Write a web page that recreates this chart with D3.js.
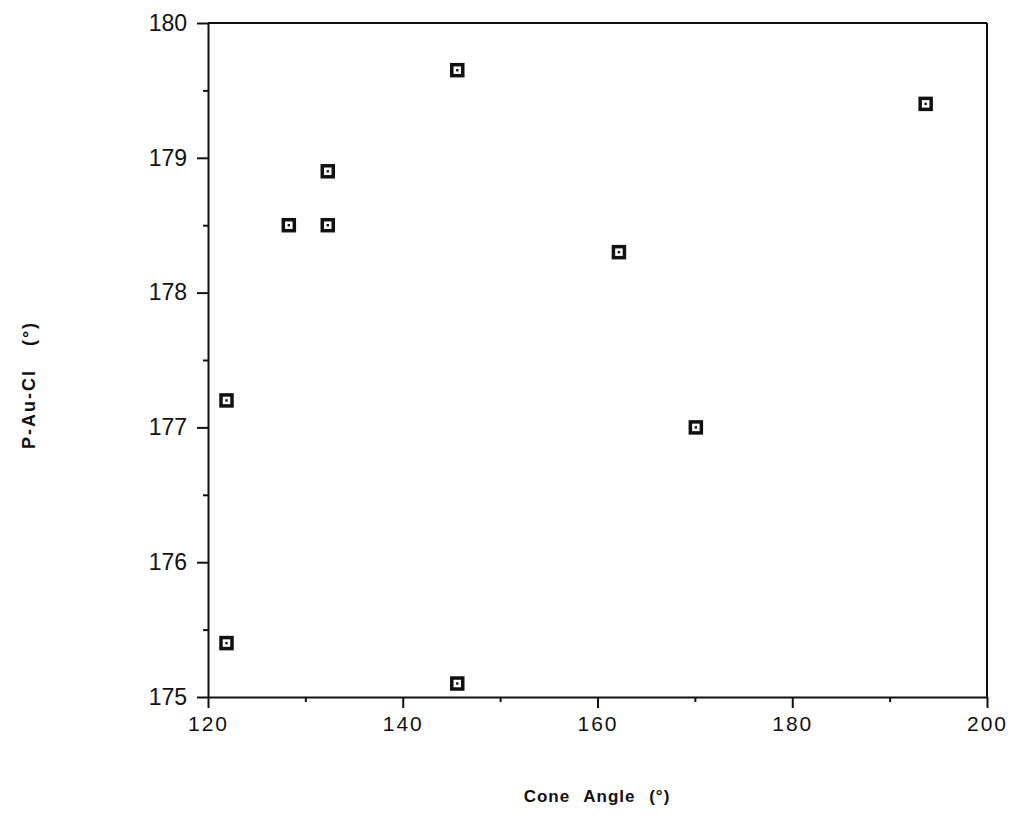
<!DOCTYPE html>
<html lang="en">
<head>
<meta charset="UTF-8">
<title>P-Au-Cl vs Cone Angle</title>
<script src="https://cdn.jsdelivr.net/npm/d3@7"></script>
<style>
body { margin: 0; background: #fff; }
text { font-family: "Liberation Sans", Arial, sans-serif; fill: #111; }
.axis path, .axis line { stroke: #111; stroke-width: 2; }
</style>
</head>
<body>
<div id="output"></div>
<script>

// cone angle (deg) vs P-Au-Cl angle (deg)
var coneAngle = [121.9, 121.9, 128.3, 132.3, 132.3, 145.6, 145.6, 162.2, 170.1, 193.7];
var pAuCl     = [177.2, 175.4, 178.5, 178.9, 178.5, 179.65, 175.1, 178.3, 177.0, 179.4];

var xTicks = [120, 140, 160, 180, 200];
var xMinor = [130, 150, 170, 190];
var yTicks = [175, 176, 177, 178, 179, 180];
var yMinor = [175.5, 176.5, 177.5, 178.5, 179.5];

var w = 1016, h = 835;
var padLeft = 208, padRight = 987, padTop = 23, padBottom = 697;

var svg = d3.select("#output").append("svg")
    .attr("width", w)
    .attr("height", h);

var xScale = d3.scaleLinear().domain([120, 200]).range([padLeft, padRight]);
var yScale = d3.scaleLinear().domain([175, 180]).range([padBottom, padTop]);

// frame top + right
svg.append("line").attr("x1", padLeft).attr("x2", padRight).attr("y1", padTop).attr("y2", padTop)
    .attr("stroke", "#111").attr("stroke-width", 2);
svg.append("line").attr("x1", padRight).attr("x2", padRight).attr("y1", padTop).attr("y2", padBottom)
    .attr("stroke", "#111").attr("stroke-width", 2);

// x axis
var xAxis = svg.append("g").attr("class", "axis")
    .attr("transform", "translate(0," + padBottom + ")")
    .call(d3.axisBottom(xScale).tickValues(xTicks).tickFormat(d3.format("d"))
        .tickSize(11).tickPadding(8).tickSizeOuter(0));
xAxis.selectAll("text").style("font-size", "21px").style("letter-spacing", "2px");
svg.append("g").attr("class", "axis")
    .attr("transform", "translate(0," + padBottom + ")")
    .call(d3.axisBottom(xScale).tickValues(xMinor).tickSize(5).tickFormat("").tickSizeOuter(0))
    .select(".domain").remove();

// y axis
var yAxis = svg.append("g").attr("class", "axis")
    .attr("transform", "translate(" + padLeft + ",0)")
    .call(d3.axisLeft(yScale).tickValues(yTicks).tickFormat(d3.format("d"))
        .tickSize(11).tickPadding(10).tickSizeOuter(0));
yAxis.selectAll("text").style("font-size", "23px");
svg.append("g").attr("class", "axis")
    .attr("transform", "translate(" + padLeft + ",0)")
    .call(d3.axisLeft(yScale).tickValues(yMinor).tickSize(5).tickFormat("").tickSizeOuter(0))
    .select(".domain").remove();

// markers
var pts = coneAngle.map(function(d, i){ return { x: d, y: pAuCl[i] }; });
var mk = svg.append("g").selectAll("g").data(pts).enter().append("g")
    .attr("transform", function(d){ return "translate(" + xScale(d.x) + "," + yScale(d.y) + ")"; });
mk.append("rect").attr("x", -5.5).attr("y", -5.5).attr("width", 11).attr("height", 11)
    .attr("fill", "#fff").attr("stroke", "#111").attr("stroke-width", 3.5);
mk.append("rect").attr("x", -1.2).attr("y", -1.2).attr("width", 2.4).attr("height", 2.4)
    .attr("fill", "#111");

// titles
svg.append("text")
    .attr("x", 597).attr("y", 802)
    .attr("text-anchor", "middle")
    .style("font-size", "17px").style("font-weight", "bold")
    .style("letter-spacing", "1px").style("word-spacing", "8px")
    .text("Cone Angle (°)");

svg.append("text")
    .attr("transform", "translate(35,385) rotate(-90)")
    .attr("text-anchor", "middle")
    .style("font-size", "18px").style("font-weight", "bold")
    .style("letter-spacing", "2px").style("word-spacing", "16px")
    .text("P-Au-Cl (°)");

</script>
</body>
</html>
